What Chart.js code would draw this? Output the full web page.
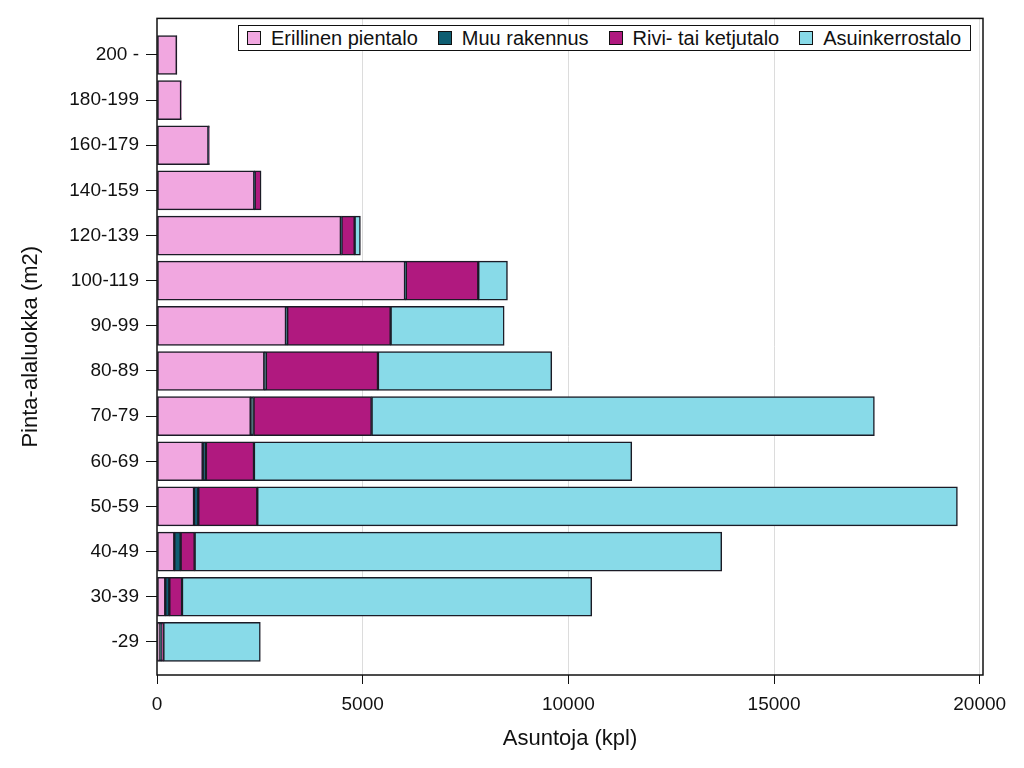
<!DOCTYPE html>
<html lang="fi">
<head>
<meta charset="utf-8">
<title>Asunnot pinta-alaluokittain</title>
<script src="https://cdn.jsdelivr.net/npm/chart.js@4.4.1/dist/chart.umd.min.js"></script>
<style>
  html, body { margin: 0; padding: 0; background: #fff; }
  #wrap { position: relative; width: 1024px; height: 768px; }
  #legend {
    position: absolute; left: 238px; top: 25px; height: 24px;
    border: 1.5px solid #111; background: #fff;
    display: flex; align-items: center; padding: 0 9px 0 8px;
    font-family: "Liberation Sans", Arial, sans-serif; font-size: 20px; color: #111;
  }
  #legend .item { display: flex; align-items: center; margin-right: 20px; }
  #legend .item:last-child { margin-right: 0; }
  #legend .box { width: 12px; height: 12px; border: 1px solid #111; margin-right: 10px; }
</style>
</head>
<body>
<div id="wrap">
  <canvas id="chart" width="1024" height="768"></canvas>
  <div id="legend"></div>
</div>
<script>
// pinta-alaluokat alhaalta ylös
const categories = ["-29", "30-39", "40-49", "50-59", "60-69", "70-79", "80-89", "90-99",
  "100-119", "120-139", "140-159", "160-179", "180-199", "200 -"];
const erillinen = [75, 200, 420, 900, 1110, 2277, 2608, 3135, 6030, 4470, 2365, 1250, 585, 480];
const muu = [40, 100, 155, 104, 80, 70, 40, 30, 20, 15, 10, 5, 0, 0];
const rivi = [40, 308, 340, 1434, 1167, 2870, 2723, 2515, 1760, 320, 155, 20, 5, 5];
const kerros = [2357, 9961, 12814, 17020, 9185, 12223, 4226, 2760, 710, 140, 0, 0, 0, 0];
const xTicks = [0, 5000, 10000, 15000, 20000];

const series = [
  { label: "Erillinen pientalo", values: erillinen, color: "#F1A7E0" },
  { label: "Muu rakennus", values: muu, color: "#0E5E72" },
  { label: "Rivi- tai ketjutalo", values: rivi, color: "#B0197F" },
  { label: "Asuinkerrostalo", values: kerros, color: "#88DAE8" },
];

const FONT = "'Liberation Sans', Arial, sans-serif";

// kehys kaavioalueen ympärille
const framePlugin = {
  id: "frame",
  afterDatasetsDraw(chart) {
    const { ctx, chartArea: a } = chart;
    ctx.save();
    ctx.strokeStyle = "#111";
    ctx.lineWidth = 1.5;
    ctx.strokeRect(a.left, a.top, a.right - a.left, a.bottom - a.top);
    ctx.restore();
  },
};

new Chart(document.getElementById("chart"), {
  type: "bar",
  data: {
    datasets: series.map((s) => ({
      label: s.label,
      data: s.values.map((v, i) => ({ x: v, y: i })),
      backgroundColor: s.color,
      borderColor: "#1b1b26",
      borderWidth: 1.5,
      borderSkipped: false,
      barThickness: 39,
    })),
  },
  plugins: [framePlugin],
  options: {
    indexAxis: "y",
    responsive: false,
    animation: false,
    layout: { padding: { left: 0, right: 41, top: 15, bottom: 0 } },
    plugins: {
      legend: { display: false },
      tooltip: { enabled: false },
    },
    scales: {
      x: {
        type: "linear",
        stacked: true,
        min: 0,
        max: 20080,
        afterBuildTicks: (scale) => {
          scale.ticks = xTicks.map((v) => ({ value: v }));
        },
        afterFit: (scale) => { scale.height = 93; },
        border: { display: false },
        grid: {
          color: (c) => (c.tick && c.tick.value === 0 ? "rgba(0,0,0,0)" : "#dcdcdc"),
          lineWidth: 1,
          tickColor: "#111",
          tickLength: 9,
        },
        ticks: {
          color: "#111",
          font: { family: FONT, size: 19 },
          padding: 9,
          maxRotation: 0,
          autoSkip: false,
          callback: (v) => String(v),
        },
        title: {
          display: true,
          text: "Asuntoja (kpl)",
          color: "#111",
          font: { family: FONT, size: 22 },
          padding: { top: 4, bottom: 16 },
        },
      },
      y: {
        type: "linear",
        stacked: true,
        offset: false,
        min: -0.734,
        max: 13.81,
        afterBuildTicks: (scale) => {
          scale.ticks = categories.map((c, i) => ({ value: i }));
        },
        afterFit: (scale) => { scale.width = 157; },
        border: { display: false },
        grid: {
          offset: false,
          drawOnChartArea: false,
          tickColor: "#111",
          tickLength: 11,
        },
        ticks: {
          color: "#111",
          font: { family: FONT, size: 19 },
          padding: 7,
          autoSkip: false,
          callback: (v) => categories[v],
        },
        title: {
          display: true,
          text: "Pinta-alaluokka (m2)",
          color: "#111",
          font: { family: FONT, size: 22 },
          padding: { top: 18, bottom: 4 },
        },
      },
    },
  },
});

// selite kaavion sisään oikeaan yläkulmaan
const legendDiv = document.getElementById("legend");
series.forEach((s) => {
  const item = document.createElement("div");
  item.className = "item";
  item.innerHTML = `<span class="box" style="background:${s.color}"></span><span>${s.label}</span>`;
  legendDiv.appendChild(item);
});
</script>
</body>
</html>
